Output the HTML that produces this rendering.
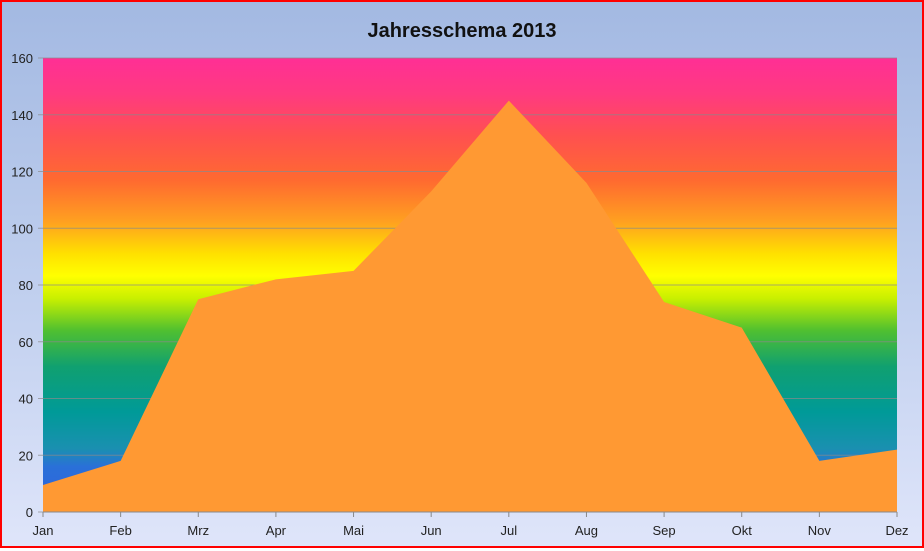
<!DOCTYPE html>
<html><head><meta charset="utf-8"><style>
html,body{margin:0;padding:0}
body{width:924px;height:548px;overflow:hidden;font-family:"Liberation Sans",sans-serif}
#chart{position:absolute;left:0;top:0;width:920px;height:544px;border:2px solid #f00;background:linear-gradient(#a3b9e2,#c4d2f0 60%,#dfe5fa)}
</style></head><body>
<div id="chart">
<svg id="svg" width="920" height="544" xmlns="http://www.w3.org/2000/svg">
<defs>
<linearGradient id="rb" x1="0" y1="0" x2="0" y2="1">
<stop offset="0" stop-color="#ff2f95"/>
<stop offset="0.08" stop-color="#ff3a80"/>
<stop offset="0.17" stop-color="#ff5050"/>
<stop offset="0.27" stop-color="#ff6a30"/>
<stop offset="0.36" stop-color="#ffa020"/>
<stop offset="0.43" stop-color="#ffe000"/>
<stop offset="0.48" stop-color="#ffff00"/>
<stop offset="0.53" stop-color="#c8f000"/>
<stop offset="0.6" stop-color="#50c030"/>
<stop offset="0.68" stop-color="#10a070"/>
<stop offset="0.78" stop-color="#009a98"/>
<stop offset="0.86" stop-color="#1a90b0"/>
<stop offset="0.9" stop-color="#2a70d8"/>
<stop offset="1" stop-color="#3060e0"/>
</linearGradient>
</defs>
<text x="460" y="35" text-anchor="middle" font-size="20" font-weight="bold" fill="#111">Jahresschema 2013</text>
<g id="plot"></g>
</svg>
</div>
<script>
const categories=["Jan","Feb","Mrz","Apr","Mai","Jun","Jul","Aug","Sep","Okt","Nov","Dez"];
const values=[9.5,18,75,82,85,113,145,116,74,65,18,22];
const yTicks=[0,20,40,60,80,100,120,140,160];
const L=41,R=895,T=56,B=510,YMAX=160;
const x=i=>L+i*(R-L)/(categories.length-1);
const y=v=>B-v*(B-T)/YMAX;
const NS="http://www.w3.org/2000/svg";
const g=document.getElementById('plot');
function mk(t,a){const e=document.createElementNS(NS,t);for(const k in a)e.setAttribute(k,a[k]);g.appendChild(e);return e;}
const bg=mk('rect',{x:L,y:T,width:R-L,height:B-T,fill:'url(#rb)'});


yTicks.forEach(t=>{
 const ln=mk('line',{x1:L-5,x2:R,y1:y(t),y2:y(t),stroke:'#8a8a8a','stroke-width':1,'stroke-opacity':0.7});
 
 
 const tx=mk('text',{x:L-10,y:y(t)+5,'text-anchor':'end','font-size':13,fill:'#222'});
 tx.textContent=t;
 
 
});
let d='M'+x(0)+','+y(0);
values.forEach((v,i)=>{d+=' L'+x(i)+','+y(v);});
d+=' L'+x(values.length-1)+','+y(0)+' Z';
const area=mk('path',{d:d,fill:'#ff9933'});


mk('line',{x1:L,x2:R,y1:B,y2:B,stroke:'#888'});
categories.forEach((c,i)=>{
 const tk=mk('line',{x1:x(i),x2:x(i),y1:B,y2:B+5,stroke:'#888'});
 
 
 const tx=mk('text',{x:x(i),y:B+23,'text-anchor':'middle','font-size':13,fill:'#222'});
 tx.textContent=c;
 
 
});
</script>
</body></html>
